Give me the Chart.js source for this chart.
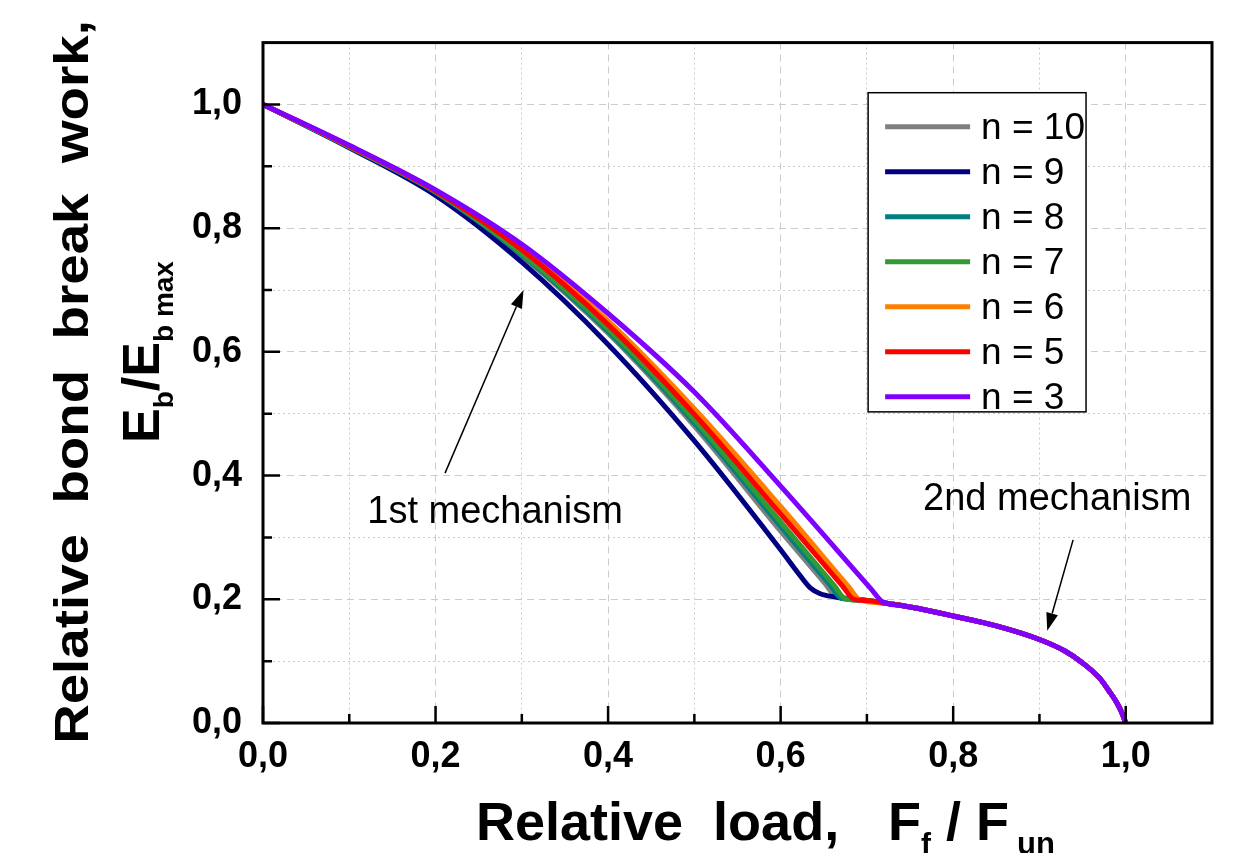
<!DOCTYPE html>
<html>
<head>
<meta charset="utf-8">
<script src="https://cdn.jsdelivr.net/npm/chart.js@4.4.1/dist/chart.umd.min.js"></script>
<style>
  html, body { margin: 0; padding: 0; background: #fff; }
  #wrap { width: 1239px; height: 853px; }
</style>
</head>
<body>
<div id="wrap"><canvas id="breakWork"></canvas></div>
<script>
// relative load F_f / F_un (shared grid for the first mechanism)
var loadGrid = [0, 0.1, 0.2, 0.3, 0.4, 0.5, 0.6];

// relative bond break work E_b / E_b max on loadGrid
var work_n10 = [1, 0.931, 0.857, 0.755, 0.630, 0.480, 0.310];
var work_n9  = [1, 0.930, 0.853, 0.745, 0.612, 0.456, 0.280];
var work_n8  = [1, 0.931, 0.858, 0.757, 0.633, 0.485, 0.318];
var work_n7  = [1, 0.932, 0.859, 0.759, 0.637, 0.490, 0.325];
var work_n6  = [1, 0.933, 0.861, 0.768, 0.650, 0.508, 0.350];
var work_n5  = [1, 0.933, 0.860, 0.765, 0.644, 0.499, 0.338];
var work_n3  = [1, 0.934, 0.862, 0.774, 0.662, 0.535, 0.383];

// points where each curve bends onto the second mechanism
var knee_n10 = [[0.652, 0.2245], [0.665, 0.203]];
var knee_n9  = [[0.620, 0.243], [0.634, 0.219], [0.646, 0.209], [0.662, 0.204]];
var knee_n8  = [[0.657, 0.2236], [0.670, 0.202]];
var knee_n7  = [[0.662, 0.2225], [0.675, 0.201]];
var knee_n6  = [[0.679, 0.220], [0.692, 0.199]];
var knee_n5  = [[0.672, 0.221], [0.685, 0.200]];
var knee_n3  = [[0.705, 0.2165], [0.718, 0.196]];

// common tail (second mechanism)
var tailLoad = [0.68, 0.70, 0.72, 0.74, 0.76, 0.80, 0.85, 0.90, 0.93, 0.95, 0.97, 0.98, 0.99, 0.995, 1.0];
var tailWork = [0.201, 0.198, 0.194, 0.190, 0.185, 0.173, 0.157, 0.135, 0.116, 0.097, 0.072, 0.053, 0.032, 0.018, 0];

var seriesNames  = ['n = 10', 'n = 9', 'n = 8', 'n = 7', 'n = 6', 'n = 5', 'n = 3'];
var seriesColors = ['#808080', '#000080', '#008080', '#339933', '#ff8000', '#ff0000', '#8000ff'];

function buildSeries(work, knee) {
	var pts = loadGrid.map(function(x, i) { return {x: x, y: work[i]}; });
	knee.forEach(function(p) { pts.push({x: p[0], y: p[1]}); });
	var lastX = knee[knee.length - 1][0];
	tailLoad.forEach(function(x, i) {
		if (x > lastX + 0.012) pts.push({x: x, y: tailWork[i]});
	});
	return pts;
}

var allWork  = [work_n10, work_n9, work_n8, work_n7, work_n6, work_n5, work_n3];
var allKnees = [knee_n10, knee_n9, knee_n8, knee_n7, knee_n6, knee_n5, knee_n3];

var datasets = seriesNames.map(function(name, i) {
	return {
		label: name,
		data: buildSeries(allWork[i], allKnees[i]),
		borderColor: seriesColors[i],
		backgroundColor: seriesColors[i],
		borderWidth: 5,
		pointRadius: 0,
		fill: false,
		cubicInterpolationMode: 'monotone',
		order: seriesNames.length - 1 - i   // last series (n = 3) on top
	};
});

var FONT = '"Liberation Sans", Arial, sans-serif';

function tenth(v) { return Math.round(v * 10); }
function tickLabel(v) {
	var k = tenth(v);
	return (k % 2 === 0 && k <= 10) ? (k / 10).toFixed(1).replace('.', ',') : '';
}
function gridDash(c) {
	return (c.tick && tenth(c.tick.value) % 2 === 0) ? [7, 5] : [2, 3];
}

function drawArrow(ctx, x1, y1, x2, y2) {
	var a = Math.atan2(y2 - y1, x2 - x1), L = 18, W = 6;
	ctx.beginPath();
	ctx.moveTo(x1, y1);
	ctx.lineTo(x2 - L * Math.cos(a), y2 - L * Math.sin(a));
	ctx.stroke();
	ctx.beginPath();
	ctx.moveTo(x2, y2);
	ctx.lineTo(x2 - L * Math.cos(a) + W * Math.sin(a), y2 - L * Math.sin(a) - W * Math.cos(a));
	ctx.lineTo(x2 - L * Math.cos(a) - W * Math.sin(a), y2 - L * Math.sin(a) + W * Math.cos(a));
	ctx.closePath();
	ctx.fill();
}

// draws text pieces [text, size, shift, gapBefore] one after another
function drawPieces(ctx, pieces, centred) {
	var total = 0;
	pieces.forEach(function(p) {
		ctx.font = 'bold ' + p[1] + 'px ' + FONT;
		p.w = ctx.measureText(p[0]).width;
		total += p.w + (p[3] || 0);
	});
	var x = centred ? -total / 2 : 0;
	ctx.textAlign = 'left';
	ctx.textBaseline = 'alphabetic';
	pieces.forEach(function(p) {
		x += (p[3] || 0);
		ctx.font = 'bold ' + p[1] + 'px ' + FONT;
		ctx.fillText(p[0], x, p[2]);
		x += p.w;
	});
}

var overlay = {
	id: 'overlay',
	afterDraw: function(chart) {
		var ctx = chart.ctx, ca = chart.chartArea;
		var xs = chart.scales.x, ys = chart.scales.y;
		ctx.save();
		ctx.strokeStyle = '#000';
		ctx.fillStyle = '#000';

		// inward ticks
		ctx.lineWidth = 2.5;
		for (var k = 0; k <= 10; k++) {
			var len = k % 2 === 0 ? 17 : 9;
			var px = xs.getPixelForValue(k / 10);
			var py = ys.getPixelForValue(k / 10);
			ctx.beginPath();
			ctx.moveTo(px, ca.bottom); ctx.lineTo(px, ca.bottom - len);
			ctx.moveTo(ca.left, py); ctx.lineTo(ca.left + len, py);
			ctx.stroke();
		}
		// frame
		ctx.lineWidth = 3;
		ctx.strokeRect(ca.left, ca.top, ca.right - ca.left, ca.bottom - ca.top);

		// legend box
		var lx = xs.getPixelForValue(0.7014), ltop = ys.getPixelForValue(1.019);
		var rx = xs.getPixelForValue(0.954), lbot = ys.getPixelForValue(0.503);
		ctx.lineWidth = 1.5;
		ctx.fillStyle = '#fff';
		ctx.fillRect(lx, ltop, rx - lx, lbot - ltop);
		ctx.strokeRect(lx, ltop, rx - lx, lbot - ltop);
		ctx.font = '37px ' + FONT;
		ctx.textAlign = 'left';
		ctx.textBaseline = 'middle';
		chart.data.datasets.forEach(function(ds, i) {
			var ry = ltop + 34 + i * 45;
			ctx.strokeStyle = ds.borderColor;
			ctx.lineWidth = 5;
			ctx.beginPath();
			ctx.moveTo(lx + 17, ry); ctx.lineTo(lx + 102, ry);
			ctx.stroke();
			ctx.fillStyle = '#000';
			ctx.fillText(ds.label, lx + 113, ry + 2);
		});

		// annotations
		ctx.strokeStyle = '#000';
		ctx.fillStyle = '#000';
		ctx.lineWidth = 1.5;
		drawArrow(ctx, xs.getPixelForValue(0.211), ys.getPixelForValue(0.404),
			xs.getPixelForValue(0.302), ys.getPixelForValue(0.700));
		drawArrow(ctx, xs.getPixelForValue(0.939), ys.getPixelForValue(0.296),
			xs.getPixelForValue(0.909), ys.getPixelForValue(0.149));
		ctx.font = '38px ' + FONT;
		ctx.textAlign = 'center';
		ctx.textBaseline = 'alphabetic';
		ctx.fillText('1st mechanism', xs.getPixelForValue(0.269), ys.getPixelForValue(0.324));
		ctx.fillText('2nd mechanism', xs.getPixelForValue(0.9206), ys.getPixelForValue(0.345));

		// x axis title
		ctx.save();
		ctx.translate(476, 840);
		drawPieces(ctx, [['Relative  load,', 54, 0]], false);
		ctx.restore();
		ctx.save();
		ctx.translate(888, 840);
		drawPieces(ctx, [['F', 54, 0], ['f', 30, 14], [' / F', 54, 0], ['un', 31, 14, 8]], false);
		ctx.restore();

		// y axis title, two lines
		ctx.save();
		ctx.translate(88, 382);
		ctx.rotate(-Math.PI / 2);
		ctx.scale(1.14, 1);
		drawPieces(ctx, [['Relative  bond  break  work,', 48, 0]], true);
		ctx.restore();
		ctx.save();
		ctx.translate(159, 352);
		ctx.rotate(-Math.PI / 2);
		drawPieces(ctx, [['E', 52, 0], ['b', 28, 14], ['/E', 52, 0], ['b max', 28, 14]], true);
		ctx.restore();

		ctx.restore();
	}
};

new Chart(document.getElementById('breakWork'), {
	type: 'line',
	data: { datasets: datasets },
	options: {
		responsive: true,
		maintainAspectRatio: false,
		animation: false,
		devicePixelRatio: 1,
		layout: { padding: { left: 10, right: 27, top: 35, bottom: 0 } },
		plugins: {
			legend: { display: false },
			tooltip: { enabled: false }
		},
		scales: {
			x: {
				type: 'linear',
				min: 0,
				max: 1.1,
				afterFit: function(scale) { scale.height = 130; },
				ticks: {
					stepSize: 0.1,
					autoSkip: false,
					maxRotation: 0,
					padding: 12,
					color: '#000',
					font: { family: FONT, size: 36, weight: 'bold' },
					callback: tickLabel
				},
				grid: { color: '#cccccc', lineWidth: 1, drawTicks: false },
				border: { display: false, dash: gridDash }
			},
			y: {
				min: 0,
				max: 1.1,
				afterFit: function(scale) { scale.width = 253; },
				ticks: {
					stepSize: 0.1,
					autoSkip: false,
					padding: 21,
					color: '#000',
					font: { family: FONT, size: 36, weight: 'bold' },
					callback: tickLabel
				},
				grid: { color: '#cccccc', lineWidth: 1, drawTicks: false },
				border: { display: false, dash: gridDash }
			}
		}
	},
	plugins: [overlay]
});
</script>
</body>
</html>
